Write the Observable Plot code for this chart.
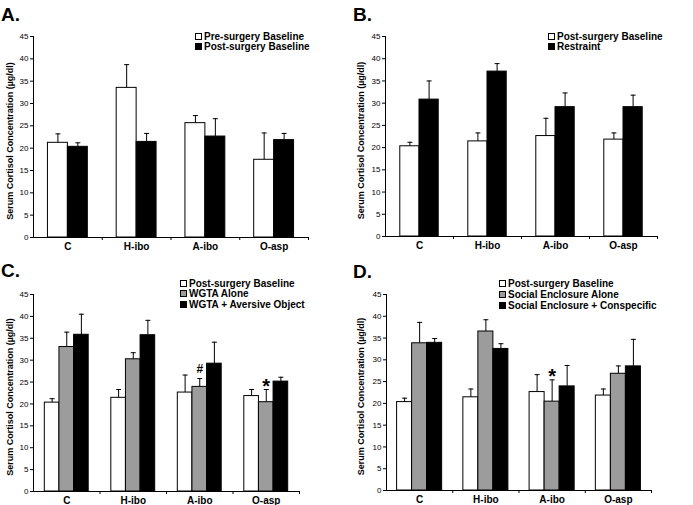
<!DOCTYPE html>
<html>
<head>
<meta charset="utf-8">
<script src="https://cdn.jsdelivr.net/npm/d3@7"></script>
<script src="https://cdn.jsdelivr.net/npm/@observablehq/plot@0.6"></script>
<style>
  html, body { margin: 0; padding: 0; background: #fff; }
  #root { position: relative; width: 693px; height: 505px; background: #fff;
          font-family: "Liberation Sans", Arial, sans-serif; color: #000; overflow: hidden; }
  .panel { position: absolute; }
  .letter { position: absolute; font-weight: bold; font-size: 19px; line-height: 19px; }
  .legend-row { position: absolute; display: flex; align-items: center; font-weight: bold;
                font-size: 10px; white-space: nowrap; }
  .swatch { display: inline-block; width: 7px; height: 7px; box-sizing: border-box;
            border: 1px solid #000; margin-right: 2px; }
</style>
</head>
<body>
<div id="root"></div>
<script>
// ---------- data ----------
const categories = ["C", "H-ibo", "A-ibo", "O-asp"];
const yTicks = [0, 5, 10, 15, 20, 25, 30, 35, 40, 45];
const yLabel = "Serum Cortisol Concentration (µg/dl)";

// Panel A
const preSurgery      = [21.2, 33.5, 25.6, 17.4];
const preSurgeryErr   = [2.0, 5.2, 1.7, 6.0];
const postSurgery     = [20.3, 21.4, 22.6, 21.8];
const postSurgeryErr  = [0.9, 1.9, 4.0, 1.5];
// Panel B
const restraint       = [30.8, 37.1, 29.1, 29.1];
const restraintErr    = [4.2, 1.8, 3.2, 2.7];
// Panel C
const wgtaAlone       = [33.0, 30.2, 23.9, 20.4];
const wgtaAloneErr    = [3.4, 1.5, 1.9, 2.9];
const wgtaAversive    = [35.8, 35.7, 29.2, 25.1];
const wgtaAversiveErr = [4.7, 3.4, 4.9, 1.0];
// Panel D
const socialAlone        = [33.8, 36.5, 20.4, 26.8];
const socialAloneErr     = [4.8, 2.7, 5.0, 1.8];
const socialConspecific  = [33.9, 32.5, 23.9, 28.5];
const socialConspecificErr = [1.0, 1.2, 4.8, 6.2];

const annotationsC = [{category: "A-ibo", series: 1, label: "#"}, {category: "O-asp", series: 1, label: "*"}];
const annotationsD = [{category: "A-ibo", series: 1, label: "*"}];

const WHITE = "#ffffff", GRAY = "#9c9c9c", BLACK = "#000000";

// ---------- drawing ----------
const root = document.getElementById("root");
const capSymbol = {draw(ctx) { ctx.moveTo(-2.5, 0); ctx.lineTo(2.5, 0); }};

function panel(spec) {
  const n = spec.series.length;
  const g = spec.groupWidth;
  const rows = [];
  spec.series.forEach((s, j) => {
    categories.forEach((cat, i) => {
      const x1 = i - g / 2 + j * g / n;
      rows.push({cat, i, j, name: s.name, fill: s.fill, value: s.values[i], top: s.values[i] + s.errors[i],
                 x1, x2: x1 + g / n, xc: x1 + g / (2 * n)});
    });
  });
  const ann = (spec.annotations || []).map(a => {
    const r = rows.find(d => d.cat === a.category && d.j === a.series);
    return {...a, xc: r.xc, top: r.top};
  });
  const font = "'Liberation Sans', Arial, sans-serif";
  const chart = Plot.plot({
    width: spec.width, height: spec.height,
    marginLeft: spec.mL, marginRight: spec.mR, marginTop: spec.mT, marginBottom: spec.mB,
    style: {fontFamily: font, background: "transparent", color: "#000", overflow: "visible"},
    x: {type: "linear", domain: [-0.5, categories.length - 0.5], axis: null},
    y: {domain: [0, 45], axis: null},
    marks: [
      Plot.rectY(rows, {x1: "x1", x2: "x2", y1: 0, y2: "value", fill: "fill", stroke: BLACK, strokeWidth: 1}),
      Plot.ruleX(rows, {x: "xc", y1: "value", y2: "top", stroke: BLACK, strokeWidth: 1}),
      Plot.dot(rows, {x: "xc", y: "top", symbol: capSymbol, stroke: BLACK, strokeWidth: 1, fill: "none"}),
      Plot.ruleX([-0.5], {stroke: BLACK}),
      Plot.ruleY([0], {stroke: BLACK}),
      Plot.axisY({ticks: yTicks, tickSize: 3, tickPadding: 2, fontSize: 8, label: null}),
      Plot.axisX({ticks: categories.map((_, i) => i + 0.5), tickSize: 3, tickFormat: () => "", label: null}),
      Plot.axisX({ticks: categories.map((_, i) => i), tickSize: 0, tickPadding: 5,
                  tickFormat: i => categories[i], fontSize: 10, fontWeight: "bold", label: null}),
      Plot.text([yLabel], {frameAnchor: "left", textAnchor: "middle", lineAnchor: "middle", rotate: -90,
                           dx: spec.yLabelDx, dy: 4, fontSize: 9, fontWeight: "bold", text: d => d}),
      Plot.text(ann.filter(a => a.label !== "*"), {x: "xc", y: "top", text: "label", fontWeight: "bold",
                      fontSize: 12, dy: -9, lineAnchor: "middle"}),
      Plot.text(ann.filter(a => a.label === "*"), {x: "xc", y: "top", text: "label", fontWeight: "bold",
                      fontSize: 20, dy: -3, lineAnchor: "middle"})
    ]
  });
  const wrap = document.createElement("div");
  wrap.className = "panel";
  wrap.style.left = spec.left + "px";
  wrap.style.top = spec.top + "px";
  wrap.appendChild(chart);
  root.appendChild(wrap);

  // panel letter
  const letter = document.createElement("div");
  letter.className = "letter";
  letter.textContent = spec.letter;
  letter.style.left = spec.letterX + "px";
  letter.style.top = (spec.letterBaseline - 16) + "px";
  root.appendChild(letter);

  // legend
  spec.series.forEach((s, j) => {
    const row = document.createElement("div");
    row.className = "legend-row";
    const c = spec.legendRows[j];
    row.style.left = spec.legendX + "px";
    row.style.top = (c - 6) + "px";
    row.style.height = "12px";
    const sw = document.createElement("span");
    sw.className = "swatch";
    sw.style.background = s.fill;
    const tx = document.createElement("span");
    tx.textContent = s.name;
    row.appendChild(sw);
    row.appendChild(tx);
    root.appendChild(row);
  });
}

panel({
  letter: "A.", letterX: 1, letterBaseline: 21,
  left: 0, top: 0, width: 346, height: 252, mL: 33, mR: 38, mT: 36, mB: 15, groupWidth: 0.58, yLabelDx: -23,
  legendX: 195, legendRows: [36, 46],
  series: [
    {name: "Pre-surgery Baseline", values: preSurgery, errors: preSurgeryErr, fill: WHITE},
    {name: "Post-surgery Baseline", values: postSurgery, errors: postSurgeryErr, fill: BLACK}
  ]
});
panel({
  letter: "B.", letterX: 353, letterBaseline: 21,
  left: 346, top: 0, width: 347, height: 252, mL: 39, mR: 36, mT: 36, mB: 16, groupWidth: 0.565, yLabelDx: -24,
  legendX: 548, legendRows: [36, 46],
  series: [
    {name: "Post-surgery Baseline", values: postSurgery, errors: postSurgeryErr, fill: WHITE},
    {name: "Restraint", values: restraint, errors: restraintErr, fill: BLACK}
  ]
});
panel({
  letter: "C.", letterX: 1, letterBaseline: 277,
  left: 0, top: 252, width: 346, height: 253, mL: 33, mR: 47, mT: 42, mB: 14, groupWidth: 0.66, yLabelDx: -23,
  legendX: 180, legendRows: [283, 293.5, 304],
  annotations: annotationsC,
  series: [
    {name: "Post-surgery Baseline", values: postSurgery, errors: postSurgeryErr, fill: WHITE},
    {name: "WGTA Alone", values: wgtaAlone, errors: wgtaAloneErr, fill: GRAY},
    {name: "WGTA + Aversive Object", values: wgtaAversive, errors: wgtaAversiveErr, fill: BLACK}
  ]
});
panel({
  letter: "D.", letterX: 353, letterBaseline: 278,
  left: 346, top: 252, width: 347, height: 253, mL: 40, mR: 42, mT: 42, mB: 15, groupWidth: 0.68, yLabelDx: -25,
  legendX: 499, legendRows: [283, 294, 305],
  annotations: annotationsD,
  series: [
    {name: "Post-surgery Baseline", values: postSurgery, errors: postSurgeryErr, fill: WHITE},
    {name: "Social Enclosure Alone", values: socialAlone, errors: socialAloneErr, fill: GRAY},
    {name: "Social Enclosure + Conspecific", values: socialConspecific, errors: socialConspecificErr, fill: BLACK}
  ]
});
</script>
</body>
</html>
